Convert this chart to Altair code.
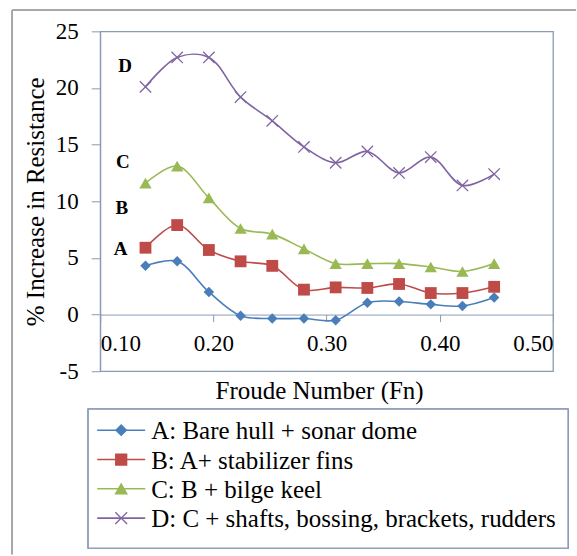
import altair as alt
import pandas as pd

# ---- data ----
fn = [0.14, 0.168, 0.196, 0.224, 0.252, 0.28, 0.308, 0.336, 0.364, 0.392, 0.42, 0.448]
series_a = [4.3, 4.7, 2.0, -0.1, -0.35, -0.35, -0.5, 1.05, 1.15, 0.9, 0.75, 1.5]
series_b = [5.9, 7.9, 5.7, 4.7, 4.3, 2.2, 2.4, 2.35, 2.7, 1.9, 1.9, 2.45]
series_c = [11.6, 13.1, 10.3, 7.6, 7.1, 5.8, 4.5, 4.5, 4.5, 4.2, 3.8, 4.5]
series_d = [20.1, 22.7, 22.7, 19.2, 17.1, 14.8, 13.4, 14.4, 12.5, 13.9, 11.4, 12.4]

names = [
    "A: Bare hull + sonar dome",
    "B: A+ stabilizer fins",
    "C: B + bilge keel",
    "D: C + shafts, bossing, brackets, rudders",
]
colors = ["#4A7EBB", "#BE4B48", "#98B954", "#8064A2"]

letters = ["A", "B", "C", "D"]
letter_x = [0.118, 0.119, 0.120, 0.122]
letter_y = [5.8, 9.4, 13.45, 21.9]

x_ticks = [0.1, 0.2, 0.3, 0.4, 0.5]
y_ticks = [-5, 0, 5, 10, 15, 20, 25]

# ---- tables ----
rows = []
for name, vals in zip(names, [series_a, series_b, series_c, series_d]):
    for f, v in zip(fn, vals):
        rows.append({"fn": f, "value": v, "series": name})
df = pd.DataFrame(rows)
lab = pd.DataFrame({"x": letter_x, "y": letter_y, "t": letters})
leg = pd.DataFrame({"series": names, "idx": list(range(len(names)))})

FONT = "Liberation Serif"
FRAME = "#8A9BB5"
W, H = 453, 340

xs = alt.Scale(domain=[0.1, 0.5], nice=False)
ys = alt.Scale(domain=[-5, 25], nice=False)
color_scale = alt.Scale(domain=names, range=colors)
shape_scale = alt.Scale(domain=names, range=["diamond", "square", "triangle-up", "M-1,-1L1,1M-1,1L1,-1"])
size_scale = alt.Scale(domain=names, range=[110, 140, 150, 130])

y_axis = alt.Axis(
    values=y_ticks, grid=False, labelExpr="'' + datum.value",
    domainColor=FRAME, tickColor=FRAME, tickSize=9, labelPadding=13,
    labelFont=FONT, labelFontSize=23, labelColor="black",
    title="% Increase in Resistance", titleFont=FONT, titleFontSize=25,
    titleFontWeight="normal", titleColor="black",
    titleBaseline="alphabetic", titleX=-57, titleY=H / 2,
)
x_enc = alt.X(
    "fn:Q", scale=xs,
    axis=alt.Axis(
        values=x_ticks, format=".2f", offset=-(5 / 30) * H, grid=False,
        domainColor=FRAME, tickColor=FRAME, tickSize=7, labelPadding=11,
        labelFont=FONT, labelFontSize=23, labelColor="black",
        title="Froude Number (Fn)", titleFont=FONT, titleFontSize=25,
        titleFontWeight="normal", titleColor="black",
        titleBaseline="alphabetic", titleX=219, titleY=84,
    ),
)
y_enc = alt.Y("value:Q", scale=ys, axis=y_axis)

lines = alt.Chart(df).mark_line(interpolate="catmull-rom", strokeWidth=1.6).encode(
    x=x_enc, y=y_enc,
    color=alt.Color("series:N", scale=color_scale, legend=None),
)

marker_specs = [
    dict(shape="diamond", size=110, filled=True),
    dict(shape="square", size=140, filled=True),
    dict(shape="triangle-up", size=150, filled=True),
    dict(shape="M-1,-1L1,1M-1,1L1,-1", size=130, filled=False, strokeWidth=1.3),
]
point_layers = []
for name, col, spec in zip(names, colors, marker_specs):
    p = (
        alt.Chart(df)
        .transform_filter(alt.datum.series == name)
        .mark_point(color=col, opacity=1, **spec)
        .encode(x=alt.X("fn:Q", scale=xs), y=alt.Y("value:Q", scale=ys, axis=y_axis))
    )
    point_layers.append(p)

texts = alt.Chart(lab).mark_text(font=FONT, fontSize=19, fontWeight="bold", color="black").encode(
    x=alt.X("x:Q", scale=xs), y=alt.Y("y:Q", scale=ys, axis=y_axis), text="t:N"
)

main = alt.layer(lines, *point_layers, texts)

# ---- legend box drawn below the plot, rows placed by a point scale ----
row_y = alt.Y("idx:O", scale=alt.Scale(type="point", domain=[0, 1, 2, 3], range=[399, 487], padding=0), axis=None)
leg_box = alt.Chart(leg).mark_rect(fill="white", stroke=FRAME, strokeWidth=1.3).encode(
    x=alt.value(-12), x2=alt.value(468), y=alt.value(378), y2=alt.value(517)
)
leg_line = alt.Chart(leg).mark_rule(strokeWidth=1.6).encode(
    x=alt.value(-3), x2=alt.value(45), y=row_y,
    color=alt.Color("series:N", scale=color_scale, legend=None),
)
leg_mark = alt.Chart(leg).mark_point(filled=True, opacity=1, strokeWidth=1.3).encode(
    x=alt.value(21), y=row_y,
    fill=alt.Fill("series:N", scale=color_scale, legend=None),
    stroke=alt.Stroke("series:N", scale=color_scale, legend=None),
    shape=alt.Shape("series:N", scale=shape_scale, legend=None),
    size=alt.Size("series:N", scale=size_scale, legend=None),
)
leg_text = alt.Chart(leg).mark_text(
    font=FONT, fontSize=25, color="black", align="left", baseline="middle", dy=1
).encode(x=alt.value(51), y=row_y, text="series:N")
legend = alt.layer(leg_box, leg_line, leg_mark, leg_text)

# outer grey frame of the figure (defines the top-left of the page)
frame_top = alt.Chart(leg).mark_rule(color="#A6A6A6", strokeWidth=1.5).encode(
    x=alt.value(-88), x2=alt.value(476), y=alt.value(-21)
)
frame_left = alt.Chart(leg).mark_rule(color="#A6A6A6", strokeWidth=1.5).encode(
    x=alt.value(-88), y=alt.value(-21), y2=alt.value(523)
)

chart = (
    alt.layer(frame_top, frame_left, main, legend)
    .resolve_scale(y="independent")
    .properties(
        width=W, height=H,
        padding={"left": 11.25, "top": 9.25, "right": 0, "bottom": 0},
        background="white",
    )
    .configure_view(stroke=FRAME, strokeWidth=1.3)
)

chart.save("out.html", embed_options={"renderer": "svg", "actions": False})
